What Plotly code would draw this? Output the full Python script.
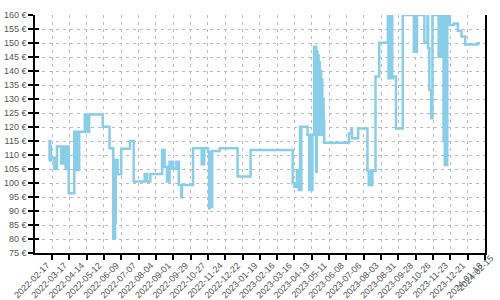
import plotly.graph_objects as go

dates = [
    "2022-02-12", "2022-02-13", "2022-02-14", "2022-02-15", "2022-02-16",
    "2022-02-21", "2022-02-22", "2022-02-23", "2022-02-25",
    "2022-03-04", "2022-03-05", "2022-03-07", "2022-03-08",
    "2022-03-11", "2022-03-12", "2022-03-13", "2022-03-14",
    "2022-03-16", "2022-03-25",
    "2022-03-28", "2022-03-30", "2022-03-31", "2022-04-02",
    "2022-04-11", "2022-04-12", "2022-04-13", "2022-04-15", "2022-04-18",
    "2022-05-10", "2022-05-21",
    "2022-05-27", "2022-05-28", "2022-05-29", "2022-05-30",
    "2022-05-31", "2022-06-01", "2022-06-02", "2022-06-03",
    "2022-06-09", "2022-06-23", "2022-06-29",
    "2022-07-17", "2022-07-18", "2022-07-19", "2022-07-21", "2022-07-26",
    "2022-08-14", "2022-08-15", "2022-08-16", "2022-08-18",
    "2022-08-22", "2022-08-23", "2022-08-24",
    "2022-08-26", "2022-08-29", "2022-08-30", "2022-09-01", "2022-09-06", "2022-09-07", "2022-09-08",
    "2022-09-10", "2022-09-14", "2022-09-15",
    "2022-10-03", "2022-10-17", "2022-10-18", "2022-10-20", "2022-10-21",
    "2022-10-27", "2022-10-29", "2022-10-30", "2022-10-31", "2022-11-01", "2022-11-02", "2022-11-03",
    "2022-11-15", "2022-12-14", "2023-01-04",
    "2023-03-13", "2023-03-16", "2023-03-20", "2023-03-21", "2023-03-22", "2023-03-23",
    "2023-03-25", "2023-03-26", "2023-03-27",
    "2023-04-06", "2023-04-09", "2023-04-10", "2023-04-11", "2023-04-12", "2023-04-13", "2023-04-14",
    "2023-04-17", "2023-04-18", "2023-04-19", "2023-04-20", "2023-04-21", "2023-04-22", "2023-04-23",
    "2023-04-24", "2023-04-25", "2023-04-26", "2023-04-27", "2023-04-28", "2023-04-29", "2023-04-30",
    "2023-05-01", "2023-05-02", "2023-05-03",
    "2023-06-12", "2023-06-16", "2023-06-17", "2023-06-27",
    "2023-07-12", "2023-07-14", "2023-07-15", "2023-07-19", "2023-07-20",
    "2023-07-25", "2023-07-31",
    "2023-08-14", "2023-08-15", "2023-08-16", "2023-08-17", "2023-08-18", "2023-08-19", "2023-08-20",
    "2023-08-21", "2023-08-22",
    "2023-08-27", "2023-09-07",
    "2023-09-25", "2023-09-26", "2023-09-27", "2023-09-28", "2023-09-29", "2023-09-30",
    "2023-10-12", "2023-10-17", "2023-10-18", "2023-10-20", "2023-10-23", "2023-10-25",
    "2023-11-04", "2023-11-05", "2023-11-06", "2023-11-07", "2023-11-08", "2023-11-09",
    "2023-11-12", "2023-11-13", "2023-11-14", "2023-11-15", "2023-11-16", "2023-11-18",
    "2023-11-22", "2023-11-29", "2023-12-05", "2023-12-11", "2023-12-17", "2024-01-06", "2024-01-10",
]

prices = [
    108, 115, 113, 108, 109,
    105, 109, 105, 113,
    107, 113, 107, 113,
    105, 113, 105, 113,
    96.3, 118.3,
    104.6, 118.3, 104.6, 118.3,
    124.5, 118.3, 124.5, 118.3, 124.5,
    120.1, 112.4,
    80.2, 85.6, 80.2, 85.6,
    108.2, 103.1, 108.2, 103.1,
    112.2, 115, 100.5,
    103.2, 100.5, 103.2, 100.5, 103.2,
    111.8, 110, 111.8, 105.8,
    100.5, 105.8, 100.5,
    107.6, 105.2, 107.6, 105.2, 107.6, 105.2, 107.6,
    99.3, 94.9, 99.3,
    112.4, 106.7, 112.4, 106.7, 112.4,
    111.2, 91, 111.2, 93.3, 111.2, 91.5, 111.4,
    112.4, 102.3, 111.8,
    99.9, 98.7, 104.6, 98.7, 104.6, 97.5,
    120.1, 97.5, 120.1,
    117.2, 97.5, 117.2, 97.5, 117.2, 97.5, 117.2,
    148.7, 117.2, 148.7, 104, 147, 117.2, 145.5,
    117.2, 143, 117.2, 140, 117.2, 137, 117.2,
    130, 122.5, 114.4,
    117.7, 119.5, 116, 119.5,
    104.4, 99.3, 104.4, 99.3, 104.4,
    138, 150.1,
    160, 137.4, 160, 137.4, 160, 137.4, 160,
    137.4, 138,
    119.5, 160,
    146.9, 160, 150, 160, 146.9, 160,
    150.1, 160, 148.1, 133.2, 123.1, 160,
    145.1, 160, 150, 160, 145.1, 160,
    115.4, 160, 106.4, 160, 106.4, 160,
    156.4, 157, 154.4, 152.3, 149.5, 149.9, 149.9,
]

y_ticks = list(range(75, 161, 5))
y_tick_text = [f"{v} €" for v in y_ticks]
x_range = ["2022-01-20 12:00", "2024-01-18"]
extra_label = "2024-02-15"

font = dict(family="Liberation Sans", size=9, color="#555555")

fig = go.Figure()
fig.add_trace(go.Scatter(
    x=dates, y=prices, mode="lines", line=dict(color="#87CEEB", width=2.5, shape="hv"),
    hoverinfo="skip", showlegend=False,
))
fig.add_trace(go.Scatter(
    x=[dates[0]], y=[prices[0]], yaxis="y2", mode="markers",
    marker=dict(opacity=0), hoverinfo="skip", showlegend=False,
))

fig.update_layout(
    width=500, height=300,
    margin=dict(l=35, r=15, t=15, b=47),
    paper_bgcolor="white", plot_bgcolor="white",
    font=font,
    xaxis=dict(
        type="date", range=x_range, tick0="2022-02-17", dtick=28 * 86400000,
        tickformat="%Y-%m-%d", tickangle=-45, ticks="outside", ticklen=5,
        tickcolor="black", tickwidth=1.5, automargin=False,
        ticklabelstandoff=-3, ticklabelshift=-5,
        showline=True, linecolor="black", linewidth=1.5,
        showgrid=True, gridcolor="#bbbbbb", gridwidth=1, griddash="3px,4px",
        zeroline=False, tickfont=font,
    ),
    yaxis=dict(
        range=[75, 160], tickmode="array", tickvals=y_ticks, ticktext=y_tick_text,
        ticks="outside", ticklen=5, tickcolor="black", tickwidth=1.5, automargin=False,
        showline=True, linecolor="black", linewidth=1.5, mirror=True,
        showgrid=True, gridcolor="#bbbbbb", gridwidth=1, griddash="3px,4px",
        zeroline=False, tickfont=font,
    ),
    yaxis2=dict(
        overlaying="y", side="left", anchor="x", range=[75, 160], tickmode="array",
        tickvals=y_ticks, ticks="inside", ticklen=4, tickcolor="black", tickwidth=1.5,
        showticklabels=False, showgrid=False, showline=False, zeroline=False, automargin=False,
    ),
)

fig.add_annotation(
    xref="paper", yref="paper", x=0.980, y=-0.086, text=extra_label,
    showarrow=False, textangle=-45, xanchor="center", yanchor="middle", font=font,
)

fig.write_html("out.html")
